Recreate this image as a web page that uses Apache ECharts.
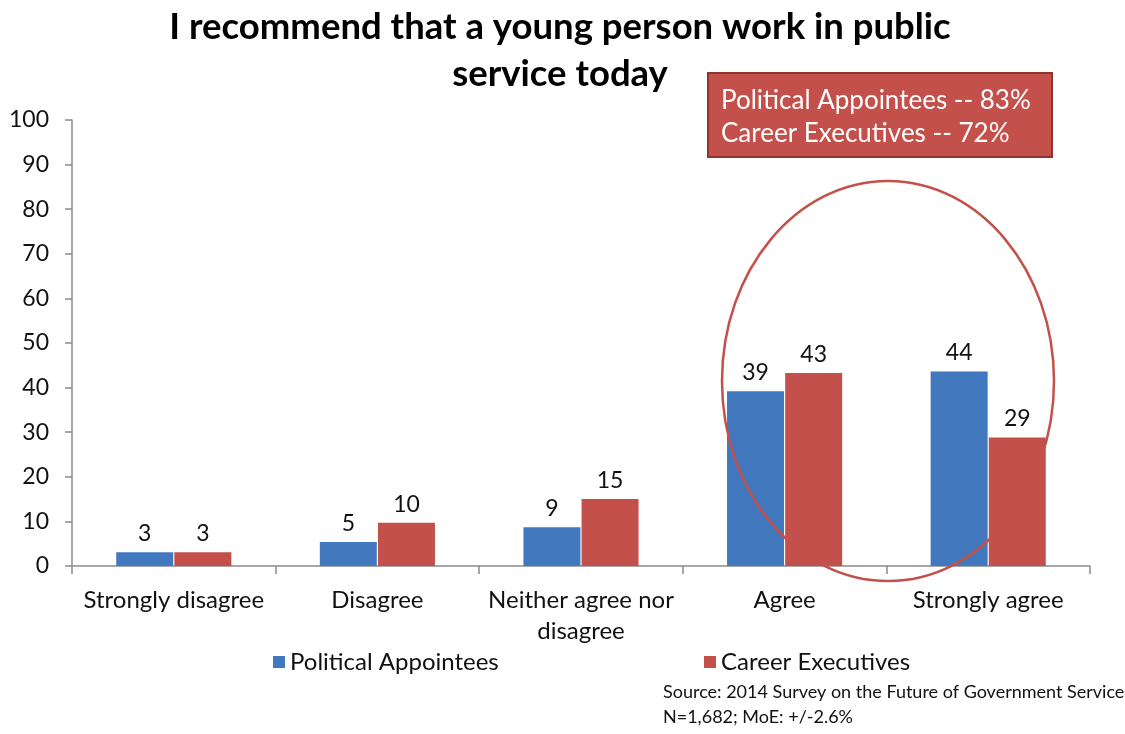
<!DOCTYPE html>
<html>
<head>
<meta charset="utf-8">
<script src="https://cdn.jsdelivr.net/npm/echarts@6/dist/echarts.min.js"></script>
<style>html,body{margin:0;padding:0;background:#fff}#c{width:1125px;height:734px}</style>
</head>
<body>
<div id="c"></div>
<script>
const titleText = 'I recommend that a young person work in public\nservice today';
const categories = ['Strongly disagree', 'Disagree', 'Neither agree nor\ndisagree', 'Agree', 'Strongly agree'];
const politicalAppointees = [3.1, 5.4, 8.7, 39.2, 43.6];
const careerExecutives = [3.1, 9.7, 15.0, 43.3, 28.8];
const yTicks = [0, 10, 20, 30, 40, 50, 60, 70, 80, 90, 100];
const boxLines = ['Political Appointees -- 83%', 'Career Executives -- 72%'];
const sourceLines = ['Source: 2014 Survey on the Future of Government Service', 'N=1,682; MoE: +/-2.6%'];

const FONT = 'Lato, "Open Sans", sans-serif';
const BLUE = '#4279BE';
const RED = '#C3504A';

const chart = echarts.init(document.getElementById('c'));
const labelCfg = {
  show: true, position: 'top', distance: 7, color: '#111', fontSize: 23, fontFamily: FONT,
  formatter: p => Math.round(p.value)
};
chart.setOption({
  animation: false,
  backgroundColor: '#fff',
  textStyle: { fontFamily: FONT },
  title: {
    text: titleText,
    left: 555, top: -1, textAlign: 'center',
    textStyle: { fontSize: 36.5, fontWeight: 'bold', color: '#000', fontFamily: FONT, lineHeight: 47 }
  },
  legend: [
    { data: ['Political Appointees'], left: 268, top: 645, itemWidth: 12, itemHeight: 12, icon: 'rect',
      textStyle: { fontSize: 24, color: '#111', fontFamily: FONT }, itemGap: 8 },
    { data: ['Career Executives'], left: 699, top: 645, itemWidth: 12, itemHeight: 12, icon: 'rect',
      textStyle: { fontSize: 24, color: '#111', fontFamily: FONT }, itemGap: 8 }
  ],
  grid: { left: 72, right: 35, top: 120, bottom: 168, containLabel: false },
  xAxis: {
    type: 'category', data: categories,
    axisLine: { lineStyle: { color: '#8c8c8c', width: 1.5 } },
    axisTick: { show: true, length: 8, lineStyle: { color: '#8c8c8c', width: 1.5 } },
    axisLabel: { fontSize: 24, color: '#111', fontFamily: FONT, margin: 19, lineHeight: 31, interval: 0 }
  },
  yAxis: {
    type: 'value', min: 0, max: 100, interval: 10,
    axisLine: { show: true, lineStyle: { color: '#8c8c8c', width: 1.5 } },
    axisTick: { show: true, length: 7, inside: false, lineStyle: { color: '#8c8c8c', width: 1.5 } },
    splitLine: { show: false },
    axisLabel: { fontSize: 23, color: '#111', fontFamily: FONT, margin: 23,
      formatter: v => yTicks.includes(v) ? String(v) : '' }
  },
  series: [
    { name: 'Political Appointees', type: 'bar', data: politicalAppointees, barWidth: 57, barGap: '2%',
      itemStyle: { color: BLUE }, label: labelCfg, z: 2 },
    { name: 'Career Executives', type: 'bar', data: careerExecutives, barWidth: 57, barGap: '2%',
      itemStyle: { color: RED }, label: labelCfg, z: 2 }
  ],
  graphic: [
    { type: 'ellipse', shape: { cx: 888, cy: 381, rx: 166, ry: 200 },
      style: { fill: 'none', stroke: '#C3504A', lineWidth: 2.5 }, z: 10 },
    { type: 'rect', shape: { x: 708, y: 73, width: 344, height: 84 },
      style: { fill: '#C3504A', stroke: '#8E3530', lineWidth: 2 }, z: 20 },
    { type: 'text', left: 721, top: 84, z: 21,
      style: { text: boxLines.join('\n'), fill: '#fff', fontSize: 26, fontFamily: FONT, lineHeight: 33 } },
    { type: 'text', left: 663, top: 680, z: 21,
      style: { text: sourceLines.join('\n'), fill: '#111', fontSize: 18, fontFamily: FONT, lineHeight: 25 } }
  ]
});
</script>
</body>
</html>
